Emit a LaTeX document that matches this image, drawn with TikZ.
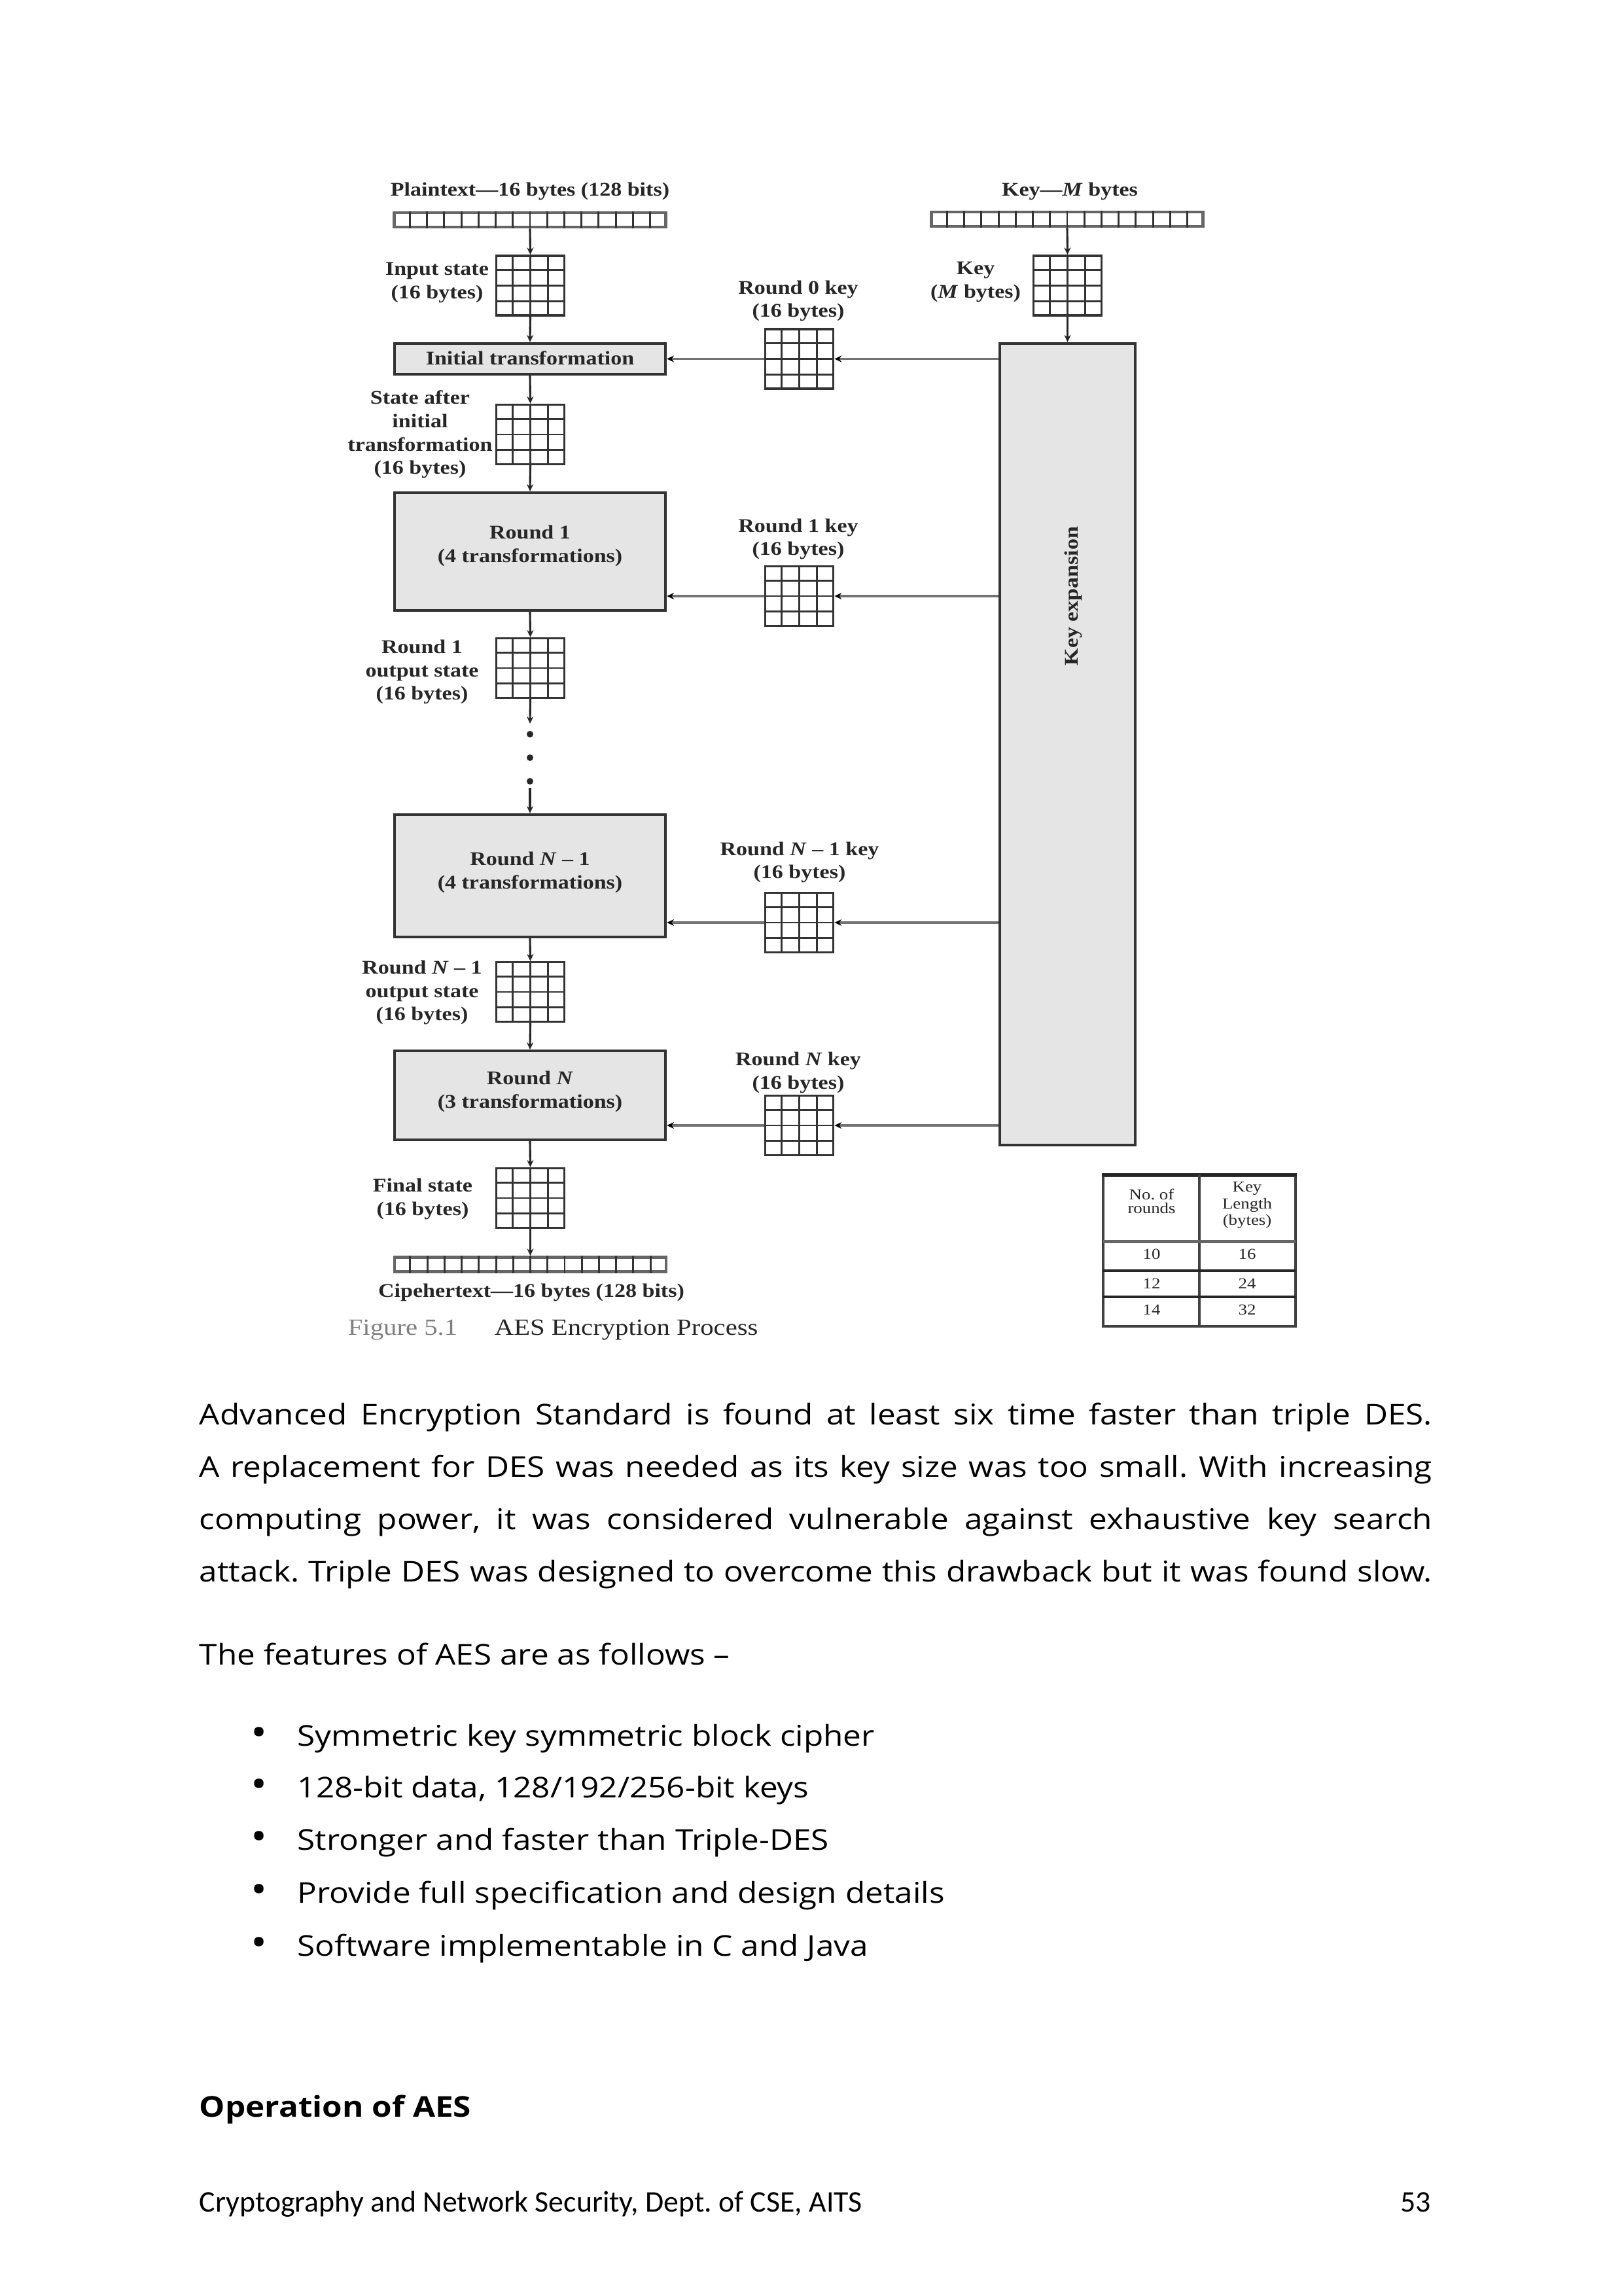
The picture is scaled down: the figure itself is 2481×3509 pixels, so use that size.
\documentclass[tikz,border=0pt]{standalone}
\usepackage{fontspec}
\usetikzlibrary{calc,arrows.meta}
\newfontfamily\figfont{Liberation Serif}[FakeStretch=1.15]
\newfontfamily\bodyfont{Open Sans}[FakeStretch=1.13]
\newfontfamily\footfont{Carlito}
\definecolor{boxfill}{gray}{0.90}
\definecolor{lineclr}{gray}{0.2}
\definecolor{hline}{gray}{0.45}
\definecolor{capgray}{gray}{0.5}
\frenchspacing
\begin{document}
\begin{tikzpicture}[x=0.24pt,y=-0.24pt,
  lbl/.style={font=\figfont\bfseries\fontsize{7.1}{8.6}\selectfont, align=center, inner sep=0pt, text=black!85},
  stage/.style={draw=lineclr, line width=1pt, fill=boxfill, inner sep=0pt, minimum width=99.4pt},
  state/.style={draw=lineclr, line width=0.85pt, fill=white, inner sep=0pt, minimum width=25pt, minimum height=21.8pt},
  bytebar/.style={draw=black!60, line width=1.1pt, fill=white, inner sep=0pt, minimum width=99.6pt, minimum height=5.3pt},
  gridline/.style={draw=lineclr, line width=0.7pt},
  sepline/.style={draw=black!80, line width=0.7pt},
  varrow/.style={draw=black!85, line width=0.75pt, -{Stealth[length=2.6pt,width=2.4pt]}},
  harrow/.style={draw=hline, line width=0.75pt, -{Stealth[length=2.6pt,width=2.4pt,color=black]}},
  dotnode/.style={circle, fill=black!85, inner sep=0pt, minimum size=2.4pt},
  tbltext/.style={font=\figfont\fontsize{5.6}{4.9}\selectfont, align=center, inner sep=0pt, text=black!85},
  body/.style={font=\bodyfont\fontsize{10.5}{14}\selectfont, inner sep=0pt},
  foot/.style={font=\footfont\fontsize{11}{13}\selectfont, inner sep=0pt},
]
\useasboundingbox (0,0) rectangle (2481,3509);
\fill[white] (0,0) rectangle (2481,3509);

% ---------------- top labels and byte bars
\node[lbl] (lp) at (810,292) {Plaintext—16 bytes (128 bits)};
\node[lbl] (lk) at (1635,292) {Key—\textit{M} bytes};
\node[bytebar] (bp) at (810,336) {};
\node[bytebar] (bk) at (1631,335) {};

% ---------------- left column
\node[state] (gin) at (810.5,436.5) {};
\node[lbl] (lin) at (668,432) {Input state\\(16 bytes)};
\node[stage, minimum height=11.3pt] (init) at (810,548.5) {};
\node[lbl] (tinit) at (810,547) {Initial transformation};
\node[state] (gst) at (810.5,664) {};
\node[lbl] (lst) at (642,664) {State after\\initial\\transformation\\(16 bytes)};
\node[stage, minimum height=43.2pt] (r1) at (810,843) {};
\node[lbl] (tr1) at (810,834) {Round 1\\(4 transformations)};
\node[state] (go1) at (810.5,1021) {};
\node[lbl] (lo1) at (645,1027) {Round 1\\output state\\(16 bytes)};
\node[dotnode] (dA) at (810,1122) {};
\node[dotnode] (dB) at (810,1158) {};
\node[dotnode] (dC) at (810,1194) {};
\coordinate (e1) at (810,1106);
\coordinate (s2) at (810,1204);
\node[stage, minimum height=44.9pt] (rN1) at (810,1338.5) {};
\node[lbl] (trN1) at (810,1333) {Round \textit{N} – 1\\(4 transformations)};
\node[state] (goN1) at (810.5,1516) {};
\node[lbl] (loN1) at (645,1517) {Round \textit{N} – 1\\output state\\(16 bytes)};
\node[stage, minimum height=32.6pt] (rN) at (810,1674) {};
\node[lbl] (trN) at (810,1668) {Round \textit{N}\\(3 transformations)};
\node[state] (gfin) at (810.5,1831) {};
\node[lbl] (lfin) at (646,1832) {Final state\\(16 bytes)};
\node[bytebar] (bc) at (810.5,1932.5) {};
\node[lbl] (lc) at (812,1975) {Cipehertext—16 bytes (128 bits)};
\node[font=\figfont\fontsize{8.5}{10}\selectfont, text=capgray, anchor=west, inner sep=0pt] (cap1) at (531,2033) {Figure 5.1};
\node[font=\figfont\fontsize{8.5}{10}\selectfont, text=black!85, anchor=west, inner sep=0pt] (cap2) at (755,2033) {AES Encryption Process};

% ---------------- key column
\node[state] (gkey) at (1631.5,436.5) {};
\node[lbl] (lkey) at (1491,431) {Key\\(\textit{M} bytes)};
\node[draw=lineclr, line width=1pt, fill=boxfill, inner sep=0pt, minimum width=49.7pt, minimum height=294pt] (kexp) at (1631.5,1137.5) {};
\node[lbl, rotate=90] (lkexp) at (1640,911) {Key expansion};

% ---------------- round keys
\node[state] (gk0) at (1221.5,548.5) {};
\node[lbl] (lk0) at (1220,460) {Round 0 key\\(16 bytes)};
\node[state] (gk1) at (1221.5,911) {};
\node[lbl] (lk1) at (1220,824) {Round 1 key\\(16 bytes)};
\node[state] (gkN1) at (1221.5,1410) {};
\node[lbl] (lkN1) at (1222,1318) {Round \textit{N} – 1 key\\(16 bytes)};
\node[state] (gkN) at (1221.5,1720) {};
\node[lbl] (lkN) at (1220,1639) {Round \textit{N} key\\(16 bytes)};

% ---------------- grid lines inside state nodes
\foreach \g in {gin,gst,go1,goN1,gfin,gkey,gk0,gk1,gkN1,gkN} {
  \foreach \k in {0.25,0.5,0.75} {
    \draw[gridline] ($(\g.south west)!\k!(\g.south east)$) -- ($(\g.north west)!\k!(\g.north east)$);
    \draw[gridline] ($(\g.south west)!\k!(\g.north west)$) -- ($(\g.south east)!\k!(\g.north east)$);
  }
}
% ---------------- byte separators
\foreach \b in {bp,bk,bc} {
  \foreach \k in {1,...,15} {
    \pgfmathsetmacro\f{\k/16}
    \draw[sepline] ($(\b.south west)!\f!(\b.south east)$) -- ($(\b.north west)!\f!(\b.north east)$);
  }
}

% ---------------- vertical connectors
\draw[varrow] (bp.south) -- (gin.north);
\draw[varrow] (gin.south) -- (init.north);
\draw[varrow] (init.south) -- (gst.north);
\draw[varrow] (gst.south) -- (r1.north);
\draw[varrow] (r1.south) -- (go1.north);
\draw[varrow] (go1.south) -- (e1);
\draw[varrow] (s2) -- (rN1.north);
\draw[varrow] (rN1.south) -- (goN1.north);
\draw[varrow] (goN1.south) -- (rN.north);
\draw[varrow] (rN.south) -- (gfin.north);
\draw[varrow] (gfin.south) -- (bc.north);
\draw[varrow] (bk.south) -- (gkey.north);
\draw[varrow] (gkey.south) -- (kexp.north);

% ---------------- horizontal key connectors
\draw[harrow] (kexp.west |- gk0) -- (gk0.east);
\draw[harrow] (gk0.west) -- (init.east |- gk0);
\draw[harrow] (kexp.west |- gk1) -- (gk1.east);
\draw[harrow] (gk1.west) -- (r1.east |- gk1);
\draw[harrow] (kexp.west |- gkN1) -- (gkN1.east);
\draw[harrow] (gkN1.west) -- (rN1.east |- gkN1);
\draw[harrow] (kexp.west |- gkN) -- (gkN.east);
\draw[harrow] (gkN.west) -- (rN.east |- gkN);

% ---------------- table
\node[draw=black!75, line width=0.8pt, inner sep=0pt, minimum width=70.6pt, minimum height=55.2pt] (tbl) at (1833,1912) {};
\draw[black!85, line width=1.1pt] (tbl.north west) -- (tbl.north east);
\draw[black!75, line width=0.8pt] (tbl.north) -- (tbl.south);
\draw[black!60, line width=1.2pt] (1686,1897) -- (1980,1897);
\draw[black!85, line width=0.8pt] (1686,1942) -- (1980,1942);
\draw[black!85, line width=0.8pt] (1686,1982) -- (1980,1982);
\node[tbltext] (th1) at (1760,1836) {No. of\\rounds};
\node[tbltext] (th2) at (1906,1842) {Key\\Length\\(bytes)};
\node[tbltext] (t11) at (1760,1917) {10};
\node[tbltext] (t12) at (1906,1917) {16};
\node[tbltext] (t21) at (1760,1962) {12};
\node[tbltext] (t22) at (1906,1962) {24};
\node[tbltext] (t31) at (1760,2002) {14};
\node[tbltext] (t32) at (1906,2002) {32};

% ---------------- body text
\node[body, anchor=base west] (p1) at (304,2177) {\makebox[452.2pt][s]{Advanced Encryption Standard is found at least six time faster than triple DES.}};
\node[body, anchor=base west] (p2) at (304,2257) {\makebox[452.2pt][s]{A replacement for DES was needed as its key size was too small. With increasing}};
\node[body, anchor=base west] (p3) at (304,2337) {\makebox[452.2pt][s]{computing power, it was considered vulnerable against exhaustive key search}};
\node[body, anchor=base west] (p4) at (304,2417) {\makebox[452.2pt][s]{attack. Triple DES was designed to overcome this drawback but it was found slow.}};
\node[body, anchor=base west] (feat) at (304,2544) {The features of AES are as follows –};
\foreach \y/\t [count=\i] in {2668/Symmetric key symmetric block cipher,
                              2747/{128-bit data, 128/192/256-bit keys},
                              2827/Stronger and faster than Triple-DES,
                              2908/Provide full specification and design details,
                              2989/Software implementable in C and Java} {
  \node[body, anchor=base] (bul\i) at (396,\y) {\scalebox{1.35}{•}};
  \node[body, anchor=base west] (item\i) at (454,\y) {\t};
}
\node[body, font=\bodyfont\bfseries\fontsize{10.5}{14}\selectfont, anchor=base west] (oper) at (304,3235) {Operation of AES};
\node[foot, anchor=base west] (foot1) at (304,3380) {Cryptography and Network Security, Dept. of CSE, AITS};
\node[foot, anchor=base east] (foot2) at (2188,3380) {53};
\end{tikzpicture}
\end{document}
